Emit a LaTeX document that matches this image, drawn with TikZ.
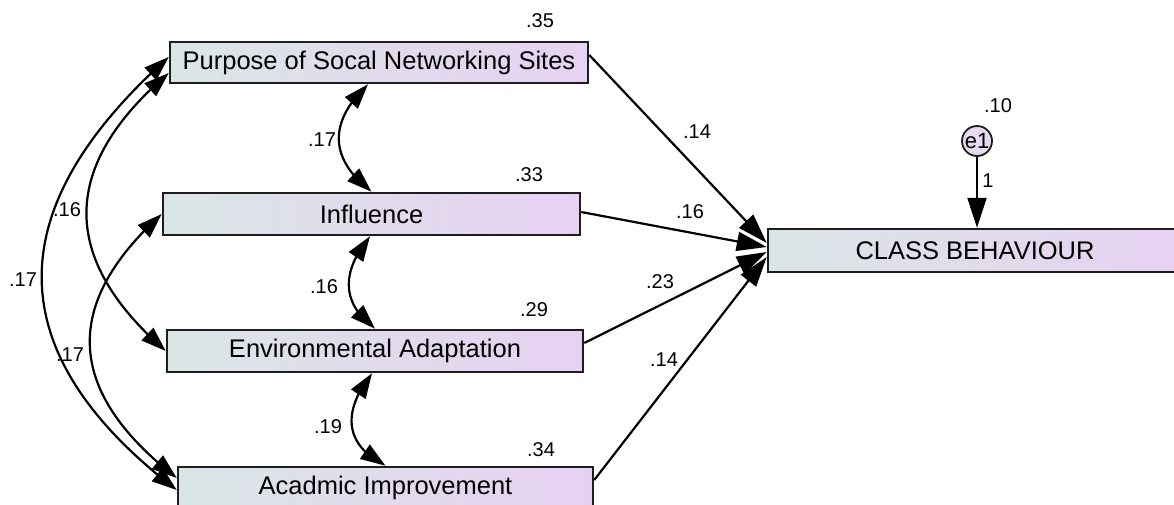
\documentclass[tikz,border=0pt]{standalone}
\usepackage{fontspec}
\setmainfont{Liberation Sans}
\usetikzlibrary{arrows.meta,bending,calc}
\definecolor{boxL}{HTML}{DAE6E6}
\definecolor{boxR}{HTML}{E7D1F2}
\definecolor{edge}{HTML}{1E1E1E}
\definecolor{efill}{HTML}{E6DAEE}
\begin{document}
\begin{tikzpicture}[x=1pt,y=-1pt,
  box/.style={draw=edge, line width=2.5pt, left color=boxL, right color=boxR, inner sep=0pt, font=\fontsize{25.5}{30}\selectfont},
  lab/.style={font=\fontsize{20}{22}\selectfont, inner sep=0pt},
  pathArr/.style={line width=2.2pt, -{Triangle[length=30pt,width=19pt]}},
  cov/.style={line width=2.2pt, {Triangle[length=25pt,width=17pt]}-{Triangle[length=25pt,width=17pt]}}]
\useasboundingbox (0,0) rectangle (1174,504);
\fill[white] (0,0) rectangle (1174,504);
% boxes
\node[box, minimum width=418pt, minimum height=41pt] (P) at (379,62.5) {Purpose of Socal Networking Sites};
\node[box, minimum width=417pt, minimum height=42pt] (I) at (371.5,214) {Influence};
\node[box, minimum width=416pt, minimum height=42pt] (E) at (375,351) {Environmental Adaptation};
\node[box, minimum width=415pt, minimum height=42pt] (A) at (385.5,488) {Acadmic Improvement};
\node[box, minimum width=414pt, minimum height=43pt] (C) at (975,250.5) {CLASS BEHAVIOUR};
\node[circle, draw=edge, line width=1.8pt, fill=efill, minimum size=30pt, inner sep=0pt, font=\fontsize{22}{24}\selectfont] (e1) at (977,141) {e1};
% error arrow
\draw[pathArr] (e1.south) -- (e1.south |- C.north);
% regression paths
\draw[pathArr] ($(P.east)+(0,-7.5)$) -- ($(C.west)+(0,-7.5)$);
\draw[pathArr] ($(I.east)+(0,-2)$) -- ($(C.west)+(0,-3.5)$);
\draw[pathArr] ($(E.east)+(0,-8)$) -- ($(C.west)+(0,1.5)$);
\draw[pathArr] ($(A.east)+(0,-8)$) -- ($(C.west)+(0,6.5)$);
% covariances (middle)
\draw[cov] ($(P.south)+(-11,0)$) .. controls (328,122) and (329,159) .. (I.north);
\draw[cov] ($(I.south)+(-1.5,0)$) .. controls (340,273) and (342,304) .. (E.north);
\draw[cov] ($(E.south)+(-3,0)$) .. controls (341,413) and (345,445) .. (A.north);
% covariances (left)
\draw[cov] ($(P.west)+(0,10.5)$) .. controls (60,166) and (59,258) .. (E.west);
\draw[cov] ($(P.west)+(0,-5.5)$) .. controls (-3,210) and (-1,354) .. ($(A.west)+(0,2)$);
\draw[cov] (I.west) .. controls (61,305) and (66,392) .. ($(A.west)+(0,-10)$);
% labels
\node[lab] (l35) at (540,21) {.35};
\node[lab] (l33) at (529,175) {.33};
\node[lab] (l29) at (534,310) {.29};
\node[lab] (l34) at (541,450) {.34};
\node[lab] (lp1) at (697,132) {.14};
\node[lab] (lp2) at (690,212) {.16};
\node[lab] (lp3) at (660,282) {.23};
\node[lab] (lp4) at (664,360) {.14};
\node[lab] (l10) at (998,106) {.10};
\node[lab] (lone) at (988,181) {1};
\node[lab] (lc1) at (322,140) {.17};
\node[lab] (lc2) at (324,287) {.16};
\node[lab] (lc3) at (328,427) {.19};
\node[lab] (lc4) at (67,210) {.16};
\node[lab] (lc5) at (23,280) {.17};
\node[lab] (lc6) at (70,355) {.17};
\end{tikzpicture}
\end{document}
